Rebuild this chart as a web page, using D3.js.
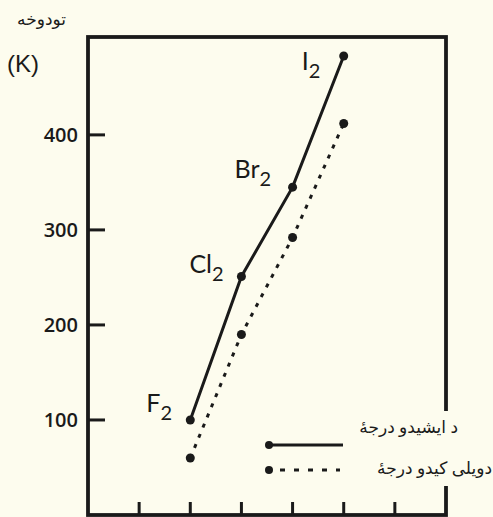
<!DOCTYPE html>
<html>
<head>
  <meta charset="utf-8">
  <title>Halogens</title>
  <style type="text/css">
    html, body { margin: 0; padding: 0; background: #fdfcee; }
    svg { display: block; background: #fdfcee; }
    .tick-label { font-family: "Open Sans", sans-serif; font-weight: 600; font-size: 20px; fill: #1a1a1a; }
    .mol { font-family: "Lato", "Open Sans", sans-serif; font-size: 25px; fill: #1a1a1a; }
    .fa { font-family: "Noto Sans", "DejaVu Sans", sans-serif; fill: #1a1a1a; }
  </style>
</head>
<body>
<svg id="vis" width="493" height="517"></svg>

<script src="https://cdnjs.cloudflare.com/ajax/libs/d3/7.8.5/d3.min.js"></script>
<script type="text/javascript">
  // data
  var molecules = ['F', 'Cl', 'Br', 'I']
  var xPos = [2, 3, 4, 5]
  var boiling = [100, 251, 345, 483]   // solid line
  var melting = [60, 190, 292, 412]    // dashed line
  var yTicks = [100, 200, 300, 400]
  var xTicks = [1, 2, 3, 4, 5, 6]
  var yTitle = 'تودوخه'
  var yUnit = '(K)'
  var legendNames = ['د ایشیدو درجهٔ', 'دویلی کیدو درجهٔ']

  var svg = d3.select('#vis')
  var ink = '#1a1a1a'
  var bg = '#fdfcee'

  var x = d3.scaleLinear().domain([0, 7]).range([88, 446])
  var y = d3.scaleLinear().domain([0, 503]).range([515, 37])

  // frame
  svg.append('rect')
    .attr('x', x(0)).attr('y', y(503))
    .attr('width', x(7) - x(0)).attr('height', y(0) - y(503))
    .attr('fill', 'none').attr('stroke', ink).attr('stroke-width', 3.8)

  // y ticks, inward
  svg.selectAll('.ytick').data(yTicks).enter()
    .append('line')
      .attr('x1', x(0)).attr('x2', x(0) + 17)
      .attr('y1', function(d) { return y(d) })
      .attr('y2', function(d) { return y(d) })
      .attr('stroke', ink).attr('stroke-width', 3)

  svg.selectAll('.ylab').data(yTicks).enter()
    .append('text')
      .attr('class', 'tick-label')
      .attr('x', x(0) - 10)
      .attr('y', function(d) { return y(d) + 7 })
      .attr('text-anchor', 'end')
      .text(function(d) { return d })

  // x ticks, inward from bottom
  svg.selectAll('.xtick').data(xTicks).enter()
    .append('line')
      .attr('x1', function(d) { return x(d) })
      .attr('x2', function(d) { return x(d) })
      .attr('y1', y(0)).attr('y2', y(0) - 13)
      .attr('stroke', ink).attr('stroke-width', 3)

  // axis title
  svg.append('text').attr('class', 'fa')
    .attr('x', 66).attr('y', 25)
    .attr('text-anchor', 'end').attr('font-size', 17)
    .text(yTitle)
  svg.append('text')
    .attr('x', 7).attr('y', 72)
    .attr('font-family', 'Liberation Sans, Arial, sans-serif')
    .attr('font-size', 24).attr('fill', ink)
    .text(yUnit)

  var line = d3.line()
    .x(function(d) { return x(d[0]) })
    .y(function(d) { return y(d[1]) })

  var melt = d3.zip(xPos, melting)
  var boil = d3.zip(xPos, boiling)

  svg.append('path').datum(melt)
    .attr('d', line).attr('fill', 'none')
    .attr('stroke', ink).attr('stroke-width', 3)
    .attr('stroke-dasharray', '4,7')
  svg.selectAll('.mdot').data(melt).enter()
    .append('circle')
      .attr('cx', function(d) { return x(d[0]) })
      .attr('cy', function(d) { return y(d[1]) })
      .attr('r', 4.5).attr('fill', ink)

  svg.append('path').datum(boil)
    .attr('d', line).attr('fill', 'none')
    .attr('stroke', ink).attr('stroke-width', 3)
  svg.selectAll('.bdot').data(boil).enter()
    .append('circle')
      .attr('cx', function(d) { return x(d[0]) })
      .attr('cy', function(d) { return y(d[1]) })
      .attr('r', 4.5).attr('fill', ink)

  // molecule labels, placed next to the solid points
  var labelOffset = [[-44, -8], [-52, -3], [-58, -9], [-42, 14]]
  molecules.forEach(function(m, i) {
    var t = svg.append('text').attr('class', 'mol')
      .attr('x', x(xPos[i]) + labelOffset[i][0])
      .attr('y', y(boiling[i]) + labelOffset[i][1])
    t.append('tspan').text(m)
    t.append('tspan').attr('font-size', 20).attr('dy', 8).text('2')
  })

  // legend
  svg.append('rect')
    .attr('x', 352).attr('y', 411).attr('width', 141).attr('height', 75)
    .attr('fill', bg)

  var legY = [445, 470]
  svg.append('line')
    .attr('x1', 266).attr('x2', 343).attr('y1', legY[0]).attr('y2', legY[0])
    .attr('stroke', ink).attr('stroke-width', 3)
  svg.append('line')
    .attr('x1', 266).attr('x2', 340).attr('y1', legY[1]).attr('y2', legY[1])
    .attr('stroke', ink).attr('stroke-width', 3)
    .attr('stroke-dasharray', '5,9')
  svg.selectAll('.ldot').data(legY).enter()
    .append('circle')
      .attr('cx', 269).attr('cy', function(d) { return d })
      .attr('r', 4).attr('fill', ink)

  svg.append('text').attr('class', 'fa')
    .attr('x', 458).attr('y', 433).attr('text-anchor', 'end')
    .attr('font-size', 17).text(legendNames[0])
  svg.append('text').attr('class', 'fa')
    .attr('x', 492).attr('y', 474).attr('text-anchor', 'end')
    .attr('font-size', 17).text(legendNames[1])
</script>
</body>
</html>
